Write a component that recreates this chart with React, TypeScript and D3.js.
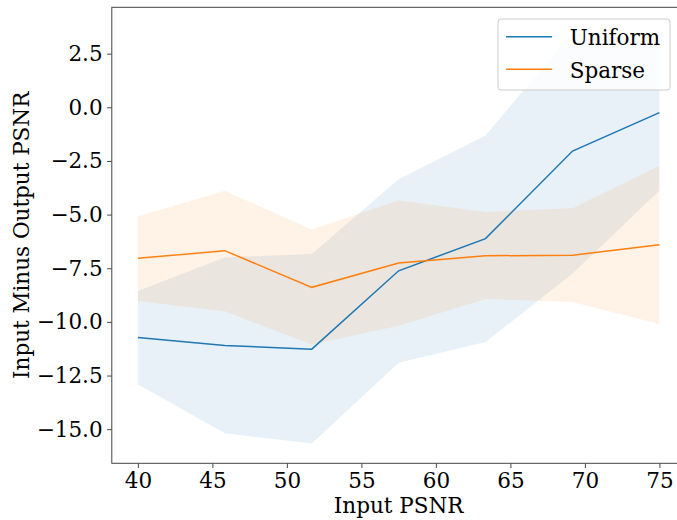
import React, { useRef, useEffect } from 'react';
import { select, scaleLinear, line, area, axisBottom, axisLeft, format } from 'd3';

// input PSNR levels
const inputPsnr = [40, 45.83, 51.67, 57.5, 63.33, 69.17, 75];

// Uniform: mean and band
const uniformMean = [-10.73, -11.1, -11.27, -7.62, -6.12, -2.04, -0.25];
const uniformLow = [-12.91, -15.19, -15.67, -11.9, -10.94, -7.75, -3.88];
const uniformHigh = [-8.56, -7.0, -6.84, -3.35, -1.31, 3.5, 3.0];

// Sparse: mean and band
const sparseMean = [-7.04, -6.68, -8.39, -7.26, -6.92, -6.89, -6.4];
const sparseLow = [-9.03, -9.51, -11.05, -10.18, -8.93, -9.07, -10.1];
const sparseHigh = [-5.09, -3.89, -5.69, -4.34, -4.88, -4.7, -2.72];

const xTicks = [40, 45, 50, 55, 60, 65, 70, 75];
const yTicks = [2.5, 0, -2.5, -5, -7.5, -10, -12.5, -15];

const seriesNames = ['Uniform', 'Sparse'];
const colors = ['#1f77b4', '#ff7f0e'];

const FONT = '"DejaVu Serif", serif';

function App() {
    const svgRef = useRef(null);

    useEffect(() => {
        const svg = select(svgRef.current);
        svg.selectAll('*').remove();

        const left = 111.8, right = 685.5, top = 7.3, bottom = 463.3;

        const xScale = scaleLinear().domain([38.25, 76.75]).range([left, right]);
        const yScale = scaleLinear().domain([-16.59, 4.66]).range([bottom, top]);

        svg.append('defs').append('clipPath').attr('id', 'plot-clip')
            .append('rect')
            .attr('x', left).attr('y', top)
            .attr('width', right - left).attr('height', bottom - top);

        const plot = svg.append('g').attr('clip-path', 'url(#plot-clip)');

        const series = [
            { mean: uniformMean, low: uniformLow, high: uniformHigh },
            { mean: sparseMean, low: sparseLow, high: sparseHigh },
        ];

        const band = area()
            .x((d) => xScale(d[0]))
            .y0((d) => yScale(d[1]))
            .y1((d) => yScale(d[2]));

        const meanLine = line()
            .x((d) => xScale(d[0]))
            .y((d) => yScale(d[1]));

        series.forEach((s, i) => {
            const pts = inputPsnr.map((x, j) => [x, s.low[j], s.high[j]]);
            plot.append('path')
                .attr('d', band(pts))
                .attr('fill', colors[i])
                .attr('fill-opacity', 0.1);
        });

        series.forEach((s, i) => {
            const pts = inputPsnr.map((x, j) => [x, s.mean[j]]);
            plot.append('path')
                .attr('d', meanLine(pts))
                .attr('fill', 'none')
                .attr('stroke', colors[i])
                .attr('stroke-width', 1.5);
        });

        // axes
        const xAxis = axisBottom(xScale).tickValues(xTicks).tickSize(4.7).tickPadding(4.5);
        const gx = svg.append('g')
            .attr('transform', `translate(0,${bottom})`)
            .call(xAxis);

        const yAxis = axisLeft(yScale).tickValues(yTicks).tickSize(4.7).tickPadding(4.5)
            .tickFormat(format('.1f'));
        const gy = svg.append('g')
            .attr('transform', `translate(${left},0)`)
            .call(yAxis);

        [gx, gy].forEach((g) => {
            g.select('.domain').remove();
            g.selectAll('line').attr('stroke', '#333').attr('stroke-width', 0.9);
            g.selectAll('text')
                .attr('font-family', FONT)
                .attr('font-size', 21.5)
                .attr('fill', '#000');
        });

        // spines
        svg.append('rect')
            .attr('x', left).attr('y', top)
            .attr('width', right - left).attr('height', bottom - top)
            .attr('fill', 'none')
            .attr('stroke', '#444')
            .attr('stroke-width', 1);

        // axis labels
        svg.append('text')
            .attr('x', (left + right) / 2)
            .attr('y', 513)
            .attr('text-anchor', 'middle')
            .attr('font-family', FONT)
            .attr('font-size', 21.5)
            .text('Input PSNR');

        svg.append('text')
            .attr('transform', `translate(29,${(top + bottom) / 2}) rotate(-90)`)
            .attr('text-anchor', 'middle')
            .attr('font-family', FONT)
            .attr('font-size', 21.5)
            .text('Input Minus Output PSNR');

        // legend
        const legend = svg.append('g');
        legend.append('rect')
            .attr('x', 498).attr('y', 19)
            .attr('width', 172).attr('height', 71)
            .attr('rx', 3)
            .attr('fill', '#fff')
            .attr('fill-opacity', 0.8)
            .attr('stroke', '#ccc')
            .attr('stroke-width', 1);

        seriesNames.forEach((name, i) => {
            const cy = 36.7 + i * 32.6;
            legend.append('line')
                .attr('x1', 506).attr('x2', 552)
                .attr('y1', cy).attr('y2', cy)
                .attr('stroke', colors[i])
                .attr('stroke-width', 1.5);
            legend.append('text')
                .attr('x', 569.7)
                .attr('y', cy + 8.2)
                .attr('font-family', FONT)
                .attr('font-size', 21.5)
                .text(name);
        });
    }, []);

    return (
        <svg
            ref={svgRef}
            width={677}
            height={520}
            style={{ position: 'absolute', left: 0, top: 0, background: '#fff' }}
        ></svg>
    );
}

export default App;
